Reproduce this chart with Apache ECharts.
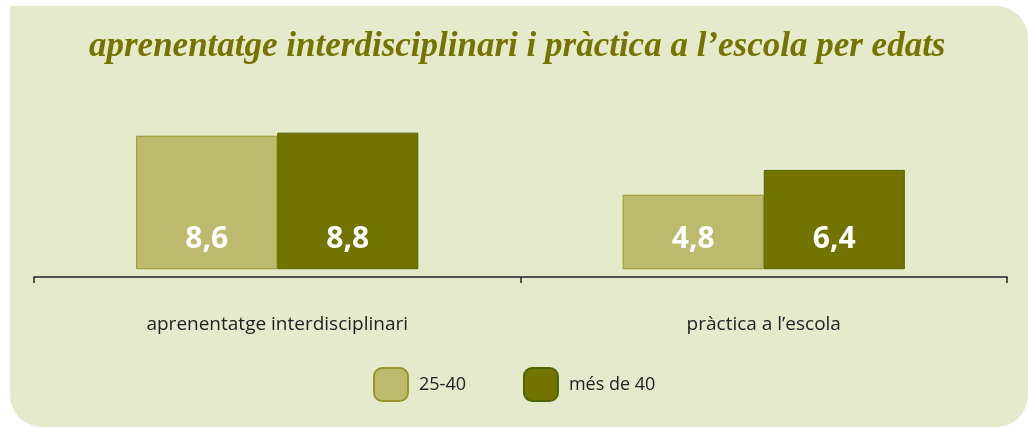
<!DOCTYPE html>
<html>
<head>
<meta charset="utf-8">
<script src="https://cdn.jsdelivr.net/npm/echarts@6/dist/echarts.min.js"></script>
<style>
  html, body { margin: 0; padding: 0; background: #ffffff; }
  #main { width: 1028px; height: 427px; }
</style>
</head>
<body>
<div id="main"></div>
<script>
// dades
var categories = ['aprenentatge interdisciplinari', 'pràctica a l\u2019escola']
var seriesNames = ['25-40', 'més de 40']
var young = [8.6, 4.8]
var older = [8.8, 6.4]

var myChart = echarts.init(document.getElementById('main'))

function commaLabel(p) {
  return String(p.value).replace('.', ',')
}

var barLabel = {
  show: true,
  position: 'insideBottom',
  distance: 15,
  formatter: commaLabel,
  color: '#ffffff',
  fontFamily: 'Open Sans',
  fontWeight: 'bold',
  fontSize: 30
}

var option = {
  animation: false,
  graphic: [
    {
      type: 'rect',
      z: -10,
      shape: { x: 10, y: 6, width: 1018, height: 421, r: [0, 32, 32, 32] },
      style: { fill: '#e6eacd' }
    },
    {
      // cantonada superior esquerra recta
      type: 'rect',
      z: -10,
      shape: { x: 10, y: 6, width: 60, height: 60 },
      style: { fill: '#e6eacd' }
    }
  ],
  title: {
    text: 'aprenentatge interdisciplinari i pràctica a l\u2019escola per edats',
    left: 89,
    top: 29,
    padding: 0,
    textStyle: {
      fontFamily: 'Liberation Serif',
      fontStyle: 'italic',
      fontWeight: 'bold',
      fontSize: 35,
      color: '#747400'
    }
  },
  legend: {
    left: 373,
    top: 367,
    padding: 0,
    itemWidth: 34,
    itemHeight: 33,
    itemGap: 57,
    icon: 'roundRect',
    textStyle: {
      fontFamily: 'Open Sans',
      fontSize: 18,
      color: '#222222',
      padding: [0, 0, 0, 6]
    },
    data: seriesNames
  },
  grid: {
    left: 34,
    right: 21,
    top: 114,
    bottom: 150,
    containLabel: false
  },
  xAxis: {
    type: 'category',
    data: categories,
    axisLine: { onZero: false, lineStyle: { color: '#222222', width: 1.5 } },
    axisTick: { show: true, length: 6, lineStyle: { color: '#222222', width: 1.5 } },
    axisLabel: {
      margin: 38,
      fontFamily: 'Open Sans',
      fontSize: 19,
      color: '#222222'
    }
  },
  yAxis: {
    type: 'value',
    min: -0.5,
    max: 10,
    show: false,
    splitLine: { show: false }
  },
  series: [
    {
      name: seriesNames[0],
      type: 'bar',
      data: young,
      barGap: '0%',
      barCategoryGap: '42%',
      itemStyle: { color: '#bcbb6d', borderColor: '#96962a', borderWidth: 1 },
      label: barLabel
    },
    {
      name: seriesNames[1],
      type: 'bar',
      data: older,
      itemStyle: { color: '#737300', borderColor: '#4d6600', borderWidth: 1 },
      label: barLabel
    }
  ]
}

myChart.setOption(option)
</script>
</body>
</html>
